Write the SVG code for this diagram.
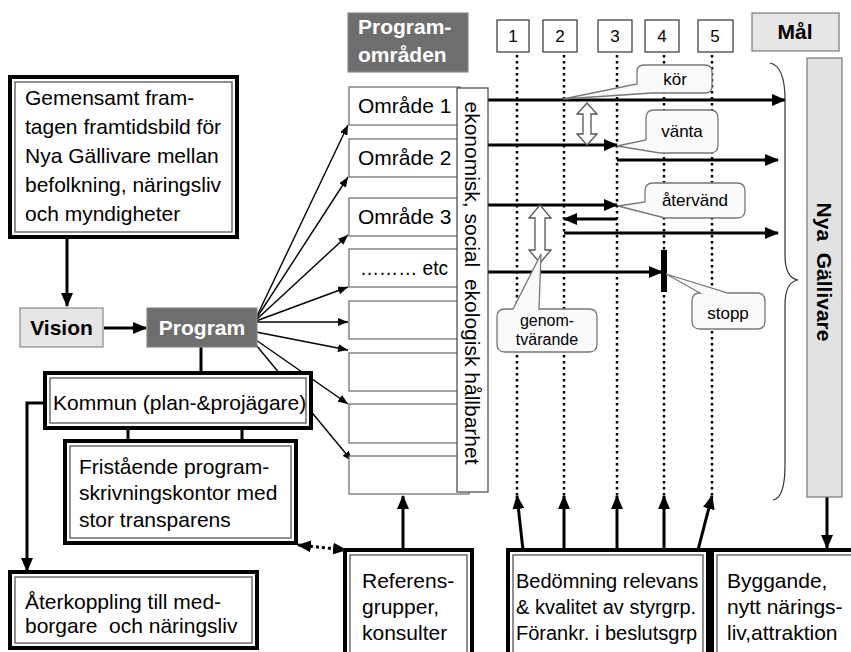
<svg xmlns="http://www.w3.org/2000/svg" width="851" height="652" viewBox="0 0 851 652">
<style>
text{font-family:"Liberation Sans",Arial,sans-serif;fill:#000;white-space:pre}
.t21{font-size:21px}
.t20{font-size:20px}
.b{font-weight:bold}
.w{fill:#fff}
.c{font-size:17px}
.n{font-size:17px;text-anchor:middle}
.outer{fill:#fff;stroke:#000;stroke-width:4}
.inner{fill:none;stroke:#555;stroke-width:1.3}
.area{fill:#fff;stroke:#666;stroke-width:1.2}
.thick{stroke:#000;stroke-width:3;fill:none}
.thin{stroke:#000;stroke-width:1.4;fill:none}
.dot{stroke:#000;stroke-width:2.5;stroke-dasharray:2.5 3.5;fill:none}
.call{fill:#fafafa;stroke:#777;stroke-width:1.3}
.hollow{fill:#fff;stroke:#555;stroke-width:1.3}
</style>
<defs>
<marker id="ah" markerUnits="userSpaceOnUse" markerWidth="14" markerHeight="12" viewBox="0 0 14 12" refX="13" refY="6" orient="auto-start-reverse"><path d="M0,0 L14,6 L0,12 Z" fill="#000"/></marker>
<marker id="ahs" markerUnits="userSpaceOnUse" markerWidth="10" markerHeight="8" viewBox="0 0 10 8" refX="10" refY="4" orient="auto"><path d="M0,0 L10,4 L0,8 Z" fill="#000"/></marker>
</defs>
<rect width="851" height="652" fill="#fff"/>

<g id="connectors">
  <line class="thin" x1="256" y1="318" x2="348" y2="125" marker-end="url(#ahs)"/>
  <line class="thin" x1="256" y1="319" x2="348" y2="177" marker-end="url(#ahs)"/>
  <line class="thin" x1="256" y1="320" x2="348" y2="235" marker-end="url(#ahs)"/>
  <line class="thin" x1="256" y1="321" x2="348" y2="287" marker-end="url(#ahs)"/>
  <line class="thin" x1="256" y1="322" x2="348" y2="322" marker-end="url(#ahs)"/>
  <line class="thin" x1="256" y1="332" x2="348" y2="350" marker-end="url(#ahs)"/>
  <line class="thin" x1="256" y1="340" x2="348" y2="404" marker-end="url(#ahs)"/>
  <line class="thin" x1="256" y1="345" x2="352" y2="461" marker-end="url(#ahs)"/>
  <line class="thick" x1="67" y1="238" x2="67" y2="306" marker-end="url(#ah)"/>
  <line class="thick" x1="104" y1="328" x2="146" y2="328" marker-end="url(#ah)"/>
  <line class="thick" x1="201" y1="347" x2="201" y2="374"/>
  <polyline class="thick" points="45,403 27,403 27,571" marker-end="url(#ah)"/>
  <line class="thick" x1="128" y1="428" x2="128" y2="442"/>
  <line class="thick" x1="242" y1="428" x2="242" y2="442"/>
  <line x1="298" y1="545" x2="346" y2="550" stroke="#000" stroke-width="3" stroke-dasharray="3 3" marker-start="url(#ah)" marker-end="url(#ah)"/>
  <line class="thick" x1="403" y1="550" x2="403" y2="496" marker-end="url(#ah)"/>
  <line class="dot" x1="517" y1="55" x2="517" y2="497"/>
  <line class="dot" x1="564" y1="55" x2="564" y2="497"/>
  <line class="dot" x1="617" y1="55" x2="617" y2="497"/>
  <line class="dot" x1="664" y1="55" x2="664" y2="497"/>
  <line class="dot" x1="712" y1="55" x2="712" y2="497"/>
  <line class="thick" x1="523" y1="550" x2="517" y2="496" marker-end="url(#ah)"/>
  <line class="thick" x1="564" y1="550" x2="564" y2="496" marker-end="url(#ah)"/>
  <line class="thick" x1="617" y1="550" x2="617" y2="496" marker-end="url(#ah)"/>
  <line class="thick" x1="664" y1="550" x2="664" y2="496" marker-end="url(#ah)"/>
  <line class="thick" x1="698" y1="550" x2="712" y2="496" marker-end="url(#ah)"/>
  <line class="thick" x1="488" y1="100" x2="785" y2="100" marker-end="url(#ah)"/>
  <line class="thick" x1="488" y1="145" x2="617" y2="145" marker-end="url(#ah)"/>
  <line class="thick" x1="617" y1="160" x2="778" y2="160" marker-end="url(#ah)"/>
  <line class="thick" x1="488" y1="205" x2="617" y2="205" marker-end="url(#ah)"/>
  <line class="thick" x1="617" y1="219" x2="564" y2="219" marker-end="url(#ah)"/>
  <line class="thick" x1="564" y1="233" x2="778" y2="233" marker-end="url(#ah)"/>
  <line class="thick" x1="488" y1="272" x2="662" y2="272" marker-end="url(#ah)"/>
  <rect x="661" y="250" width="6" height="42" fill="#000"/>
  <line class="thick" x1="827" y1="497" x2="827" y2="548" marker-end="url(#ah)"/>
  <path d="M770,63 Q785,66 785,100 L785,255 Q785,278 798,280 Q785,282 785,305 L785,465 Q785,498 773,500" fill="none" stroke="#333" stroke-width="1.2"/>
  <polygon class="hollow" points="587,103 597,114 591,114 591,134 597,134 587,145 577,134 583,134 583,114 577,114"/>
  <polygon class="hollow" points="540,205 551,218 545,218 545,250 551,250 540,263 529,250 535,250 535,218 529,218"/>
</g>

<g id="gemensamt">
  <rect class="outer" x="10" y="77" width="227" height="160"/>
  <rect class="inner" x="15" y="82" width="217" height="150"/>
  <text class="t21" x="25" y="105">Gemensamt fram-</text>
  <text class="t21" x="25" y="134">tagen framtidsbild för</text>
  <text class="t21" x="25" y="163">Nya Gällivare mellan</text>
  <text class="t21" x="25" y="192">befolkning, näringsliv</text>
  <text class="t21" x="25" y="221">och myndigheter</text>
</g>

<g id="vision">
  <rect x="20" y="308" width="83" height="39" fill="#e6e6e6" stroke="#888" stroke-width="1.2"/>
  <text class="t21 b" x="61.5" y="335" text-anchor="middle">Vision</text>
</g>

<g id="program">
  <rect x="147" y="308" width="110" height="39" fill="#6e6e6e" stroke="#888" stroke-width="1.2"/>
  <text class="t21 b w" x="202" y="335" text-anchor="middle">Program</text>
</g>

<g id="kommun">
  <rect class="outer" x="45" y="373" width="266" height="55"/>
  <rect class="inner" x="50" y="378" width="256" height="45"/>
  <text class="t21" x="53" y="410">Kommun (plan-&amp;projägare)</text>
</g>

<g id="fristaende">
  <rect class="outer" x="65" y="441" width="231" height="102"/>
  <rect class="inner" x="70" y="446" width="221" height="92"/>
  <text class="t21" x="79" y="474">Fristående program-</text>
  <text class="t21" x="79" y="500">skrivningskontor med</text>
  <text class="t21" x="79" y="527">stor transparens</text>
</g>

<g id="aterkoppling">
  <rect class="outer" x="10" y="572" width="247" height="76"/>
  <rect class="inner" x="15" y="577" width="237" height="66"/>
  <text class="t21" x="25" y="609">Återkoppling till med-</text>
  <text class="t21" x="25" y="633">borgare  och näringsliv</text>
</g>

<g id="programomraden">
  <rect x="348" y="13" width="120" height="59" fill="#6e6e6e" stroke="#888" stroke-width="1.2"/>
  <text class="t21 b w" x="358" y="34">Program-</text>
  <text class="t21 b w" x="358" y="62">områden</text>
</g>

<g id="omraden">
  <rect class="area" x="349" y="87" width="111" height="38"/>
  <rect class="area" x="349" y="139" width="111" height="38"/>
  <rect class="area" x="349" y="198" width="111" height="38"/>
  <rect class="area" x="349" y="249" width="111" height="38"/>
  <rect class="area" x="349" y="301" width="111" height="38"/>
  <rect class="area" x="349" y="353" width="111" height="38"/>
  <rect class="area" x="349" y="404" width="111" height="39"/>
  <rect class="area" x="349" y="456" width="120" height="38"/>
  <text class="t21" x="358" y="113">Område 1</text>
  <text class="t21" x="358" y="165">Område 2</text>
  <text class="t21" x="358" y="224">Område 3</text>
  <text class="t21" x="360" y="275" textLength="88" lengthAdjust="spacingAndGlyphs">……… etc</text>
</g>

<g id="hallbarhet">
  <rect x="457" y="88" width="31" height="404" fill="#fff" stroke="#444" stroke-width="1.2"/>
  <text class="t21" transform="translate(465,283) rotate(90)" text-anchor="middle">ekonomisk, social  ekologisk hållbarhet</text>
</g>

<g id="steg">
  <rect x="497" y="20" width="32" height="32" fill="#fff" stroke="#333" stroke-width="1.2"/>
  <text class="n" x="513" y="42">1</text>
  <rect x="543" y="20" width="34" height="32" fill="#fff" stroke="#333" stroke-width="1.2"/>
  <text class="n" x="560" y="42">2</text>
  <rect x="598" y="20" width="34" height="32" fill="#fff" stroke="#333" stroke-width="1.2"/>
  <text class="n" x="615" y="42">3</text>
  <rect x="645" y="20" width="34" height="32" fill="#fff" stroke="#333" stroke-width="1.2"/>
  <text class="n" x="662" y="42">4</text>
  <rect x="698" y="20" width="35" height="32" fill="#fff" stroke="#333" stroke-width="1.2"/>
  <text class="n" x="715" y="42">5</text>
</g>

<g id="mal">
  <rect x="752" y="13" width="87" height="38" fill="#e6e6e6" stroke="#777" stroke-width="1.2"/>
  <text class="t21 b" x="795" y="39" text-anchor="middle">Mål</text>
</g>

<g id="nyagallivare">
  <rect x="807" y="58" width="35" height="439" fill="#e2e2e2" stroke="#777" stroke-width="1.2"/>
  <text class="t21 b" transform="translate(817,272) rotate(90)" text-anchor="middle">Nya  Gällivare</text>
</g>

<g id="callout-kor">
  <path class="call" d="M644,65 H705 Q712,65 712,72 V86 Q712,93 705,93 H652 L563,99 L637,84 V72 Q637,65 644,65 Z"/>
  <text class="c" x="675" y="85" text-anchor="middle">kör</text>
</g>
<g id="callout-vanta">
  <path class="call" d="M654,110 H710 Q718,110 718,118 V145 Q718,153 710,153 H660 L617,146 L646,140 V118 Q646,110 654,110 Z"/>
  <text class="c" x="682" y="137" text-anchor="middle">vänta</text>
</g>
<g id="callout-atervand">
  <path class="call" d="M653,183 H737 Q745,183 745,191 V210 Q745,218 737,218 H665 L618,206 L645,202 V191 Q645,183 653,183 Z"/>
  <text class="c" x="695" y="206" text-anchor="middle">återvänd</text>
</g>
<g id="callout-stopp">
  <path class="call" d="M700,293 L666,274 L728,293 H757 Q765,293 765,301 V321 Q765,329 757,329 H700 Q692,329 692,321 V301 Q692,293 700,293 Z"/>
  <text class="c" x="728" y="319" text-anchor="middle">stopp</text>
</g>
<g id="callout-genomtvarande">
  <path class="call" d="M505,309 H513 L541,254 L539,309 H589 Q597,309 597,317 V344 Q597,352 589,352 H505 Q497,352 497,344 V317 Q497,309 505,309 Z"/>
  <text x="547" y="326" text-anchor="middle" font-size="16">genom-</text>
  <text x="547" y="345" text-anchor="middle" font-size="16">tvärande</text>
</g>

<g id="referens">
  <rect class="outer" x="345" y="550" width="127" height="110"/>
  <rect class="inner" x="350" y="555" width="117" height="110"/>
  <text class="t21" x="362" y="588">Referens-</text>
  <text class="t21" x="362" y="614">grupper,</text>
  <text class="t21" x="362" y="640">konsulter</text>
</g>

<g id="bedomning">
  <rect class="outer" x="508" y="550" width="200" height="110"/>
  <rect class="inner" x="513" y="555" width="190" height="110"/>
  <text class="t20" x="516" y="588">Bedömning relevans</text>
  <text class="t20" x="516" y="614">&amp; kvalitet av styrgrp.</text>
  <text class="t20" x="516" y="640">Förankr. i beslutsgrp</text>
</g>

<g id="byggande">
  <rect class="outer" x="712" y="550" width="150" height="110"/>
  <rect class="inner" x="717" y="555" width="140" height="110"/>
  <text class="t21" x="727" y="588">Byggande,</text>
  <text class="t21" x="727" y="614">nytt närings-</text>
  <text class="t21" x="727" y="640">liv,attraktion</text>
</g>
</svg>
